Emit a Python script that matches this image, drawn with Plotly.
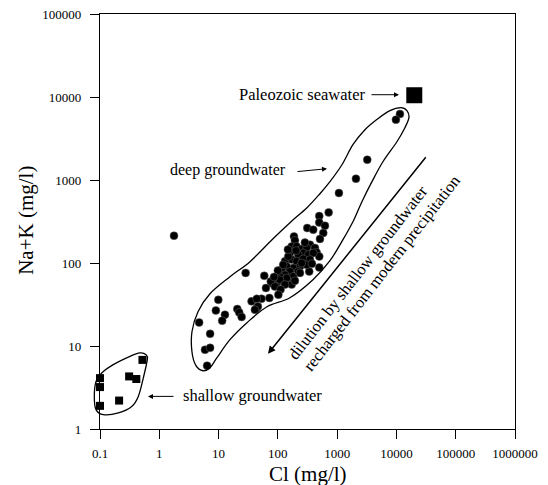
import numpy as np
import plotly.graph_objects as go

# ---------------- data (mg/l) ----------------
deep_cl = [11460, 9800, 3220, 2075, 1072, 719, 499, 499, 623, 313, 395, 583, 513, 187, 194,
           348, 422, 451, 499, 499, 338,
           171, 207, 252, 306, 268, 221, 326, 395, 160, 132, 171, 207, 268, 348, 306, 236,
           182, 141, 116, 160, 132, 108, 182, 150, 123, 95, 79, 221, 150, 123, 252, 236,
           141, 108, 171, 132, 59, 76, 63, 89, 111, 102, 72, 53, 36, 44, 44, 46, 28.6,
           20.7, 22.3, 24.5, 41, 9.9, 9.0, 12.8, 11.5, 4.7, 7.2, 5.9, 7.2, 6.4, 1.77,
           148, 286, 202, 376, 100, 194, 86]
deep_nak = [6240, 5330, 1756, 1036, 697, 407, 368, 308, 281, 264, 252, 230, 195, 209, 187,
            166, 152, 134, 120, 88.5, 79,
            158, 158, 147, 152, 132, 126, 126, 132, 132, 105, 110, 105, 112, 110, 95, 91,
            87, 91, 83, 79, 72, 69, 69, 60, 60, 57, 57, 79, 120, 95, 100, 76,
            66, 63, 55, 55, 70, 60, 50, 52, 48, 41.5, 38, 37, 34.5, 28.7, 37, 30, 76,
            27.9, 25.4, 22.4, 27.4, 36, 26.8, 23.8, 20.2, 19.2, 14, 9.0, 9.5, 5.8, 213,
            145, 176, 141, 98, 81, 61, 68]

shallow_cl = [0.1, 0.1, 0.1, 0.21, 0.31, 0.41, 0.52]
shallow_nak = [4.1, 3.2, 1.9, 2.2, 4.3, 4.0, 6.8]

seawater_cl = [20000]
seawater_nak = [10500]

x_tickvals = [0.1, 1, 10, 100, 1000, 10000, 100000, 1000000]
x_ticktext = ["0.1", "1", "10", "100", "1000", "10000", "100000", "1000000"]
y_tickvals = [1, 10, 100, 1000, 10000, 100000]
y_ticktext = ["1", "10", "100", "1000", "10000", "100000"]

# envelope outlines (log10 of Cl, log10 of Na+K)
deep_env_logcl = [4.076, 4.177, 4.211, 4.143, 4.008, 3.772, 3.587, 3.418, 3.283, 3.098, 2.879,
                  2.592, 2.204, 1.816, 1.479, 1.192, 0.973, 0.855, 0.737, 0.619, 0.551, 0.551,
                  0.653, 0.855, 1.192, 1.530, 1.901, 2.204, 2.491, 2.710, 2.879, 3.081, 3.266,
                  3.469, 3.688, 3.890]
deep_env_lognak = [3.871, 3.835, 3.751, 3.630, 3.461, 3.220, 2.980, 2.739, 2.522, 2.281, 2.028,
                   1.799, 1.582, 1.473, 1.281, 1.076, 0.859, 0.739, 0.702, 0.763, 0.931, 1.172,
                   1.413, 1.630, 1.835, 2.016, 2.281, 2.486, 2.666, 2.835, 2.980, 3.184, 3.425,
                   3.606, 3.739, 3.835]
shallow_env_logcl = [-0.224, -0.202, -0.270, -0.354, -0.465, -0.691, -0.944, -1.067, -1.096,
                     -1.067, -0.971, -0.776, -0.494, -0.325]
shallow_env_lognak = [0.895, 0.835, 0.614, 0.393, 0.272, 0.193, 0.172, 0.233, 0.393, 0.573,
                      0.675, 0.775, 0.875, 0.916]

X_RANGE = [-1, 6]
Y_RANGE = [0, 5]
FONT = "Liberation Serif"


def to_paper(lx, ly):
    xp = (np.array(lx) - X_RANGE[0]) / (X_RANGE[1] - X_RANGE[0])
    yp = (np.array(ly) - Y_RANGE[0]) / (Y_RANGE[1] - Y_RANGE[0])
    return xp, yp


def smooth_closed_path(xs, ys):
    n = len(xs)
    p = f"M{xs[0]:.5f},{ys[0]:.5f}"
    for i in range(n):
        i0, i1, i2, i3 = (i - 1) % n, i, (i + 1) % n, (i + 2) % n
        c1x = xs[i1] + (xs[i2] - xs[i0]) / 6
        c1y = ys[i1] + (ys[i2] - ys[i0]) / 6
        c2x = xs[i2] - (xs[i3] - xs[i1]) / 6
        c2y = ys[i2] - (ys[i3] - ys[i1]) / 6
        p += f" C{c1x:.5f},{c1y:.5f} {c2x:.5f},{c2y:.5f} {xs[i2]:.5f},{ys[i2]:.5f}"
    return p + " Z"


fig = go.Figure()
fig.add_trace(go.Scatter(x=deep_cl, y=deep_nak, mode="markers", cliponaxis=False,
                         marker=dict(symbol="circle", size=8, color="black",
                                     line=dict(color="#666666", width=0.5)),
                         name="deep groundwater", showlegend=False))
fig.add_trace(go.Scatter(x=shallow_cl, y=shallow_nak, mode="markers", cliponaxis=False,
                         marker=dict(symbol="square", size=8, color="black"),
                         name="shallow groundwater", showlegend=False))
fig.add_trace(go.Scatter(x=seawater_cl, y=seawater_nak, mode="markers", cliponaxis=False,
                         marker=dict(symbol="square", size=16, color="black"),
                         name="Paleozoic seawater", showlegend=False))

shapes = []
for lx, ly in [(deep_env_logcl, deep_env_lognak), (shallow_env_logcl, shallow_env_lognak)]:
    xp, yp = to_paper(lx, ly)
    shapes.append(dict(type="path", xref="paper", yref="paper",
                       path=smooth_closed_path(list(xp), list(yp)),
                       line=dict(color="black", width=1.3)))


def label(text, x, y, size=16, angle=0):
    return dict(text=text, x=x, y=y, xref="paper", yref="paper", showarrow=False,
                xanchor="center", yanchor="middle", textangle=angle,
                font=dict(family=FONT, size=size, color="black"))


def arrow(x, y, ax, ay, width=1):
    return dict(text="", x=x, y=y, xref="paper", yref="paper", showarrow=True,
                ax=ax, ay=ay, arrowhead=2, arrowsize=1, arrowwidth=width,
                arrowcolor="black")


annotations = [
    label("Paleozoic seawater", 0.4867, 0.8055, size=16.5),
    arrow(0.7205, 0.8055, -29, 0),
    label("deep groundwater", 0.3084, 0.6248, size=16),
    arrow(0.547, 0.6272, -31, 3),
    label("shallow groundwater", 0.3663, 0.0802, size=16.5),
    arrow(0.1157, 0.0786, 27, 0),
    arrow(0.4048, 0.1814, 159, -198, width=1.5),
    label("dilution by shallow groundwater", 0.6212, 0.3776, size=16.5, angle=-52),
    label("recharged from modern precipitation", 0.6776, 0.3757, size=16.5, angle=-52),
    label("Cl (mg/l)", 0.5, -0.1077, size=21),
    label("Na+K (mg/l)", -0.178, 0.502, size=21, angle=-90),
]

axis_common = dict(showgrid=False, zeroline=False, showline=True, linecolor="black",
                   linewidth=1.3, mirror=True, ticks="outside", ticklen=9, tickwidth=1.3,
                   tickcolor="black", ticklabeloverflow="allow",
                   tickfont=dict(family=FONT, size=13, color="black"))

# page body has an 8px default margin, so the figure is 8px smaller than the window
fig.update_layout(
    width=540, height=477,
    margin=dict(l=92, r=33, t=6, b=56, autoexpand=False),
    paper_bgcolor="white", plot_bgcolor="white",
    xaxis=dict(type="log", range=X_RANGE, tickvals=x_tickvals, ticktext=x_ticktext,
               ticklabelstandoff=3, **axis_common),
    yaxis=dict(type="log", range=Y_RANGE, tickvals=y_tickvals, ticktext=y_ticktext,
               ticklabelstandoff=6, **axis_common),
    shapes=shapes,
    annotations=annotations,
    showlegend=False,
)

fig.write_html("out.html")
